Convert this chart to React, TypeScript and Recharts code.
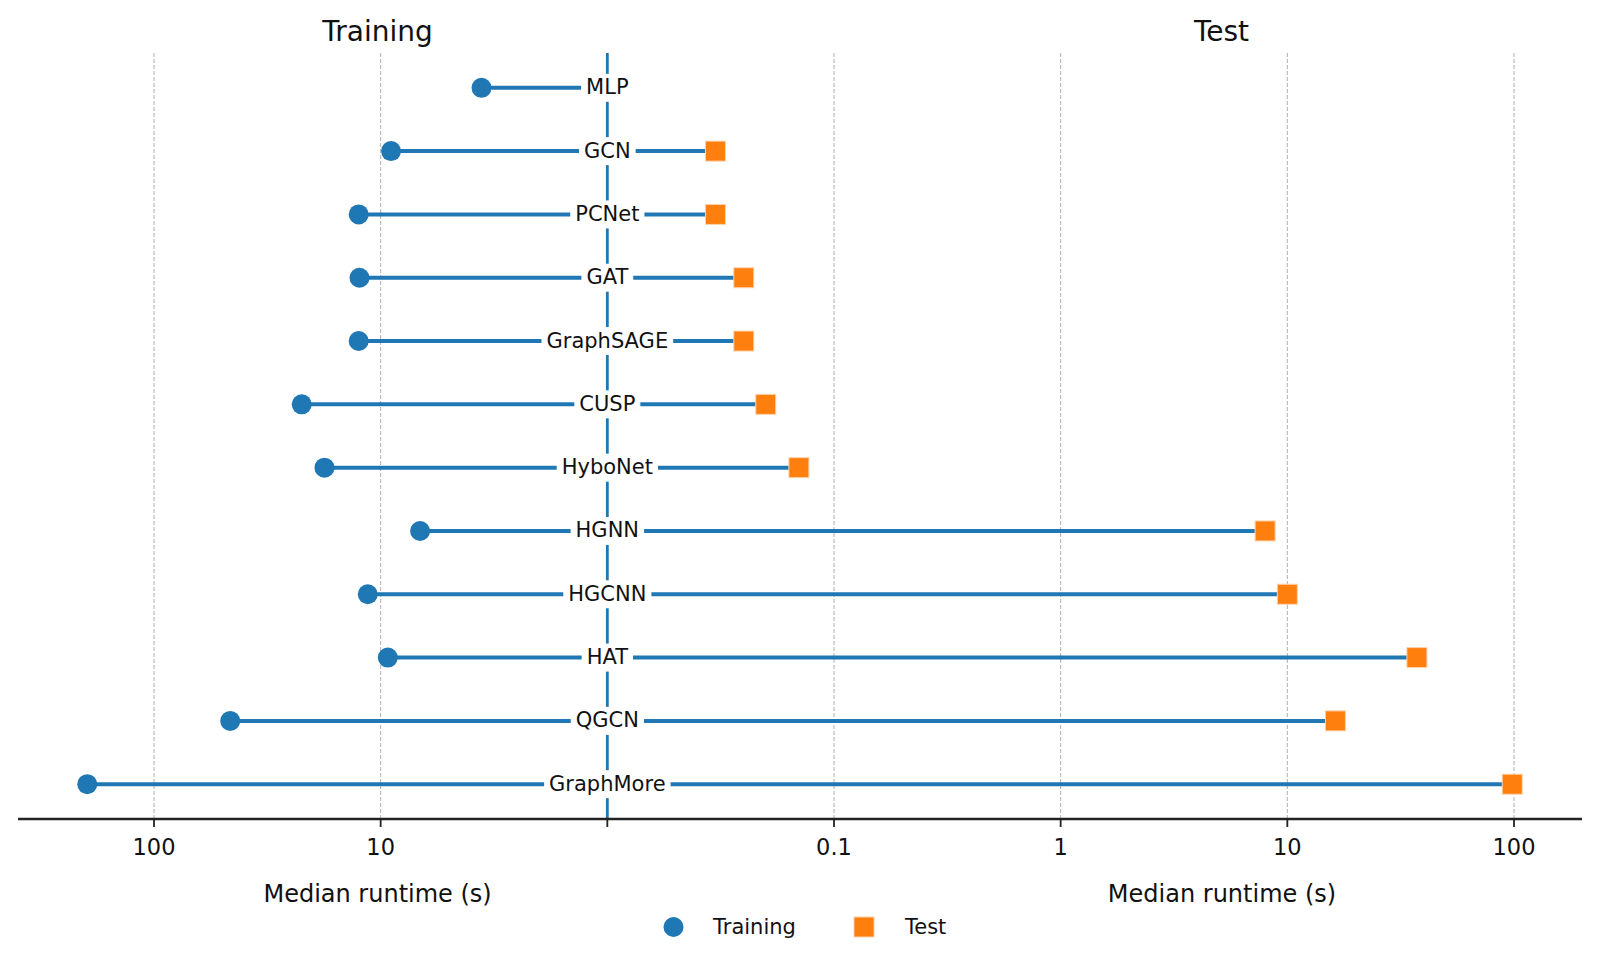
import React from 'react';
import { ComposedChart, Line, Scatter, XAxis, YAxis, CartesianGrid } from 'recharts';

const models = ['MLP', 'GCN', 'PCNet', 'GAT', 'GraphSAGE', 'CUSP', 'HyboNet', 'HGNN', 'HGCNN', 'HAT', 'QGCN', 'GraphMore'];
const trainingRuntime = [3.59, 9.0, 12.5, 12.4, 12.5, 22.3, 17.7, 6.7, 11.4, 9.3, 46.1, 197];
const testRuntime: (number | null)[] = [null, 0.03, 0.03, 0.04, 0.04, 0.05, 0.07, 7.98, 10.0, 37.3, 16.3, 98.2];
const xTicks = [-2, -1, 0, 1, 2, 3, 4];
const tickLabels = ['100', '10', '', '0.1', '1', '10', '100'];
const gridTicks = [-2, -1, 1, 2, 3, 4];

const BLUE = '#1f77b4';
const ORANGE = '#ff7f0e';
const FONT = "'DejaVu Sans', sans-serif";

// left half: training seconds on a reversed log scale (1 s on the centre line)
// right half: test seconds on a log scale (0.01 s on the centre line)
const trainPos = (s: number) => -Math.log10(s);
const testPos = (s: number) => Math.log10(s) + 2;

const trainPoints = models.map((name, i) => ({ x: trainPos(trainingRuntime[i]), y: i, name }));
const testPoints = models.flatMap((name, i) =>
  testRuntime[i] == null ? [] : [{ x: testPos(testRuntime[i] as number), y: i, name }]
);
const labelPoints = models.map((name, i) => ({ x: 0, y: i, name }));
const stems = models.map((_, i) => [
  { x: trainPos(trainingRuntime[i]), y: i },
  { x: testRuntime[i] == null ? 0 : testPos(testRuntime[i] as number), y: i },
]);
const xDomain: [number, number] = [-2.6, 4.3];
const yDomain: [number, number] = [-0.55, 11.55];
const centreLine = [{ x: 0, y: yDomain[0] }, { x: 0, y: yDomain[1] }];

let ctx: CanvasRenderingContext2D | null = null;
const textWidth = (s: string, size: number) => {
  if (!ctx) ctx = document.createElement('canvas').getContext('2d');
  if (!ctx) return s.length * size * 0.6;
  ctx.font = `${size}px 'DejaVu Sans'`;
  return ctx.measureText(s).width;
};

const RowLabel = (props: any) => {
  const { cx, cy, payload } = props;
  const w = textWidth(payload.name, 21) + 10;
  return (
    <g>
      <rect x={cx - w / 2} y={cy - 14} width={w} height={28} fill="#fff" />
      <text x={cx} y={cy + 6.5} textAnchor="middle" fontSize={21} fontFamily={FONT} fill="#111">
        {payload.name}
      </text>
    </g>
  );
};

const TrainDot = (props: any) => <circle cx={props.cx} cy={props.cy} r={10} fill={BLUE} />;
const TestSquare = (props: any) => (
  <rect x={props.cx - 10} y={props.cy - 10} width={20} height={20} fill={ORANGE} stroke="#ffd2ad" strokeWidth={1} />
);

const Tick = (props: any) => {
  const { x, y, payload } = props;
  const label = tickLabels[xTicks.indexOf(payload.value)] ?? '';
  return (
    <text x={x} y={y + 24} textAnchor="middle" fontSize={22.5} fontFamily={FONT} fill="#111">
      {label}
    </text>
  );
};

// grid only at the labelled decades, not at the plot edges
const gridX = ({ offset }: any) =>
  gridTicks.map((t) => offset.left + ((t - xDomain[0]) / (xDomain[1] - xDomain[0])) * offset.width);

export default function App() {
  return (
    <div style={{ position: 'absolute', left: 0, top: 0, width: 1600, height: 964, background: '#fff' }}>
      <ComposedChart width={1600} height={964} margin={{ top: 53, right: 18, left: 18, bottom: 85 }}>
        <CartesianGrid
          horizontal={false}
          verticalCoordinatesGenerator={gridX}
          stroke="#b0b0b0"
          strokeDasharray="4 2"
          strokeWidth={1}
        />
        <XAxis
          type="number"
          dataKey="x"
          domain={xDomain}
          allowDataOverflow
          ticks={xTicks}
          tick={<Tick />}
          height={60}
          tickSize={8}
          tickMargin={4}
          axisLine={{ stroke: '#222', strokeWidth: 2.5 }}
          tickLine={{ stroke: '#222', strokeWidth: 1.8 }}
        />
        <YAxis type="number" dataKey="y" domain={yDomain} reversed hide allowDataOverflow />
        <Line
          data={centreLine}
          dataKey="y"
          stroke={BLUE}
          strokeWidth={2.8}
          dot={false}
          activeDot={false}
          isAnimationActive={false}
        />
        {stems.map((seg, i) => (
          <Line
            key={i}
            data={seg}
            dataKey="y"
            stroke={BLUE}
            strokeWidth={4}
            dot={false}
            activeDot={false}
            isAnimationActive={false}
          />
        ))}
        <Scatter data={labelPoints} shape={<RowLabel />} isAnimationActive={false} />
        <Scatter data={trainPoints} shape={<TrainDot />} isAnimationActive={false} />
        <Scatter data={testPoints} shape={<TestSquare />} isAnimationActive={false} />
      </ComposedChart>
      <svg
        width={1600}
        height={964}
        style={{ position: 'absolute', left: 0, top: 0, pointerEvents: 'none' }}
        fontFamily={FONT}
      >
        <text x={377.6} y={41} textAnchor="middle" fontSize={28} fill="#111">Training</text>
        <text x={1221.5} y={41} textAnchor="middle" fontSize={28} fill="#111">Test</text>
        <text x={377.6} y={902} textAnchor="middle" fontSize={24} fill="#111">Median runtime (s)</text>
        <text x={1222} y={902} textAnchor="middle" fontSize={24} fill="#111">Median runtime (s)</text>
        <circle cx={673.5} cy={927} r={10} fill={BLUE} />
        <text x={713} y={934} fontSize={21} fill="#111">Training</text>
        <rect x={854} y={917} width={20} height={20} fill={ORANGE} stroke="#ffd2ad" strokeWidth={1} />
        <text x={905} y={934} fontSize={21} fill="#111">Test</text>
      </svg>
    </div>
  );
}
